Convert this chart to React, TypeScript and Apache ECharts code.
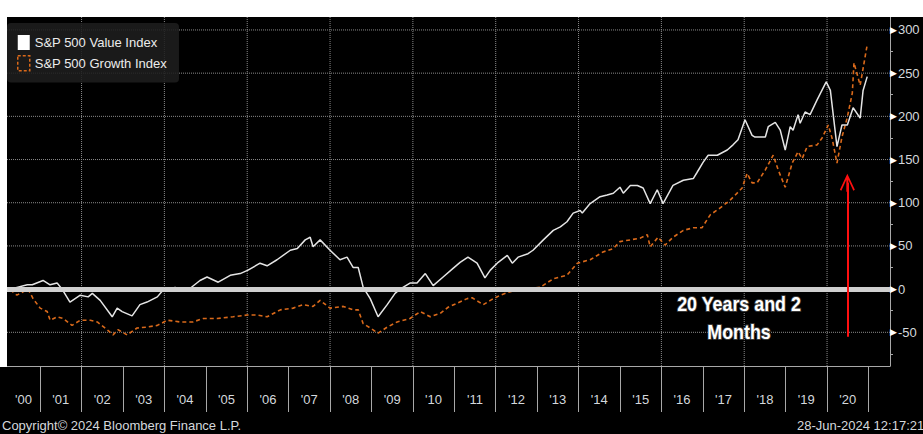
import React, { useEffect, useRef } from "react";
import * as echarts from "echarts";

// ---- Data (decimal year, index % change) ----
const valueYears = [
  2000.28, 2000.69, 2000.81, 2001.07, 2001.24, 2001.41, 2001.53, 2001.72, 2001.97, 2002.16,
  2002.26, 2002.45, 2002.74, 2002.86, 2002.98, 2003.22, 2003.41, 2003.58, 2003.83, 2003.97,
  2004.26, 2004.57, 2004.86, 2005.03, 2005.3, 2005.59, 2005.83, 2006.02, 2006.31, 2006.48,
  2006.72, 2007.04, 2007.21, 2007.4, 2007.52, 2007.59, 2007.76, 2008.0, 2008.24, 2008.41,
  2008.56, 2008.68, 2008.8, 2008.97, 2009.16, 2009.38, 2009.57, 2009.69, 2009.93, 2010.1,
  2010.3, 2010.49, 2010.73, 2010.97, 2011.14, 2011.33, 2011.55, 2011.74, 2011.87, 2012.06,
  2012.28, 2012.4, 2012.54, 2012.78, 2012.9, 2013.15, 2013.39, 2013.56, 2013.72, 2013.87,
  2014.04, 2014.09, 2014.28, 2014.52, 2014.69, 2014.84, 2015.0, 2015.08, 2015.25, 2015.42,
  2015.56, 2015.73, 2015.9, 2016.04, 2016.28, 2016.53, 2016.77, 2016.86, 2017.01, 2017.13,
  2017.35, 2017.59, 2017.73, 2017.85, 2018.02, 2018.19, 2018.26, 2018.51, 2018.58, 2018.75,
  2018.87, 2018.99, 2019.11, 2019.18, 2019.3, 2019.35, 2019.47, 2019.59, 2019.76, 2019.98,
  2020.08, 2020.24, 2020.36, 2020.49, 2020.63, 2020.8, 2020.87, 2020.97,
];
const valueIndex = [
  0, 5, 5, 10, 5, 7, 0, -15, -7, -9,
  -5, -13, -32, -22, -26, -31, -18, -15, -9, -1,
  2, -1, 10, 14, 8, 16, 18, 22, 30, 27,
  34, 45, 47, 57, 60, 49, 57, 45, 34, 37,
  25, 25, 2, -11, -32, -18, -5, 0, 7, 7,
  18, 4, 14, 24, 31, 37, 30, 13, 22, 31,
  39, 30, 37, 41, 45, 57, 68, 72, 78, 88,
  91, 88, 99, 107, 109, 111, 118, 111, 120, 120,
  117, 99, 115, 99, 120, 126, 128, 135, 147, 155,
  155, 161, 167, 173, 196, 178, 176, 176, 188, 193,
  184, 161, 188, 184, 202, 192, 205, 202, 219, 240,
  230, 165, 190, 190, 210, 198, 230, 246,
];

const growthYears = [
  2000.28, 2000.44, 2000.59, 2000.71, 2000.83, 2001.0, 2001.17, 2001.24, 2001.41, 2001.56,
  2001.77, 2001.97, 2002.21, 2002.38, 2002.62, 2002.76, 2002.88, 2003.1, 2003.34, 2003.58,
  2003.83, 2004.07, 2004.38, 2004.69, 2004.94, 2005.27, 2005.66, 2006.0, 2006.24, 2006.48,
  2006.8, 2007.11, 2007.35, 2007.59, 2007.76, 2008.0, 2008.32, 2008.56, 2008.68, 2008.8,
  2008.97, 2009.16, 2009.38, 2009.62, 2009.93, 2010.18, 2010.42, 2010.66, 2010.85, 2011.31,
  2011.43, 2011.7, 2011.87, 2012.11, 2012.35, 2012.64, 2013.07, 2013.39, 2013.72, 2013.97,
  2014.28, 2014.59, 2014.84, 2015.0, 2015.25, 2015.49, 2015.66, 2015.73, 2015.92, 2016.09,
  2016.28, 2016.53, 2016.77, 2016.98, 2017.18, 2017.42, 2017.66, 2017.95, 2018.07, 2018.19,
  2018.31, 2018.51, 2018.7, 2018.82, 2018.99, 2019.16, 2019.3, 2019.4, 2019.52, 2019.76,
  2019.88, 2020.03, 2020.12, 2020.24, 2020.36, 2020.49, 2020.61, 2020.65, 2020.8, 2020.97,
];
const growthIndex = [
  -1, -7, -3, 0, -11, -22, -26, -36, -32, -34,
  -42, -36, -36, -38, -47, -53, -47, -53, -45, -44,
  -42, -36, -38, -38, -34, -34, -32, -30, -30, -32,
  -24, -22, -18, -20, -13, -22, -20, -24, -24, -40,
  -45, -51, -44, -38, -34, -26, -32, -28, -21, -11,
  -10, -18, -13, -7, -3, 0, 2, 12, 16, 30,
  34, 43, 47, 55, 57, 59, 63, 49, 60, 51,
  60, 68, 71, 71, 86, 94, 103, 117, 134, 123,
  123, 138, 155, 138, 118, 146, 159, 151, 165, 167,
  175, 190, 175, 146, 176, 199, 227, 262, 236, 283,
];

const X_MIN = 2000.2;
const X_MAX = 2021.52;
const Y_MIN = -89;
const Y_MAX = 315;
const xTickYears = [2001, 2002, 2003, 2004, 2005, 2006, 2007, 2008, 2009, 2010, 2011, 2012, 2013, 2014, 2015, 2016, 2017, 2018, 2019, 2020, 2021];
const xLabelPositions = [2000.6, 2001.5, 2002.5, 2003.5, 2004.5, 2005.5, 2006.5, 2007.5, 2008.5, 2009.5, 2010.5, 2011.5, 2012.5, 2013.5, 2014.5, 2015.5, 2016.5, 2017.5, 2018.5, 2019.5, 2020.5];
const xGridYears = [2002, 2004, 2006, 2008, 2010, 2012, 2014, 2016, 2018, 2020];
const yTickLabels = [-50, 0, 50, 100, 150, 200, 250, 300];
const yMinorTicks = [-75, -25, 25, 75, 125, 175, 225, 275];
const yGridValues = [-50, 50, 100, 150, 200, 250, 300];
const arrowYear = 2020.49;
const arrowFrom = -55;
const arrowTo = 123;

const VALUE_NAME = "S&P 500 Value Index";
const GROWTH_NAME = "S&P 500 Growth Index";
const ORANGE = "#d9691a";
const FONT = "'Liberation Sans', Arial, sans-serif";
const GRID_COLOR = "#8a8a8a";

const ARROW_PATH =
  "path://M7.5,0 L15,16 L13.5,17 L8.5,6 L8.5,18 L6.5,18 L6.5,6 L1.5,17 L0,16 Z";

export default function App() {
  const ref = useRef<HTMLDivElement>(null);

  useEffect(() => {
    document.body.style.margin = "0";
    if (!ref.current) return;
    const chart = echarts.init(ref.current, undefined, { renderer: "svg" });

    const valueData = valueYears.map((x, i) => [x, valueIndex[i]]);
    const growthData = growthYears.map((x, i) => [x, growthIndex[i]]);

    // dotted grid as broken line segments
    const gridData: any[] = [];
    xGridYears.forEach((x) => {
      gridData.push([x, Y_MIN], [x, Y_MAX], [x, "-"]);
    });
    yGridValues.forEach((y) => {
      gridData.push([X_MIN, y], [X_MAX, y], [X_MAX, "-"]);
    });

    chart.setOption({
      animation: false,
      backgroundColor: "#000",
      textStyle: { fontFamily: FONT },
      grid: { left: 7, right: 33, top: 17, bottom: 68, containLabel: false },
      legend: {
        left: 7,
        top: 23,
        orient: "vertical",
        backgroundColor: "rgba(30,30,30,0.88)",
        borderRadius: 4,
        padding: [12, 12, 11, 10],
        itemWidth: 12,
        itemHeight: 15,
        itemGap: 5,
        selectedMode: false,
        textStyle: { color: "#ececec", fontSize: 13, fontFamily: FONT },
        data: [
          { name: VALUE_NAME, icon: "rect", itemStyle: { color: "#ffffff" } },
          {
            name: GROWTH_NAME,
            icon: "rect",
            itemStyle: {
              color: "rgba(0,0,0,0)",
              borderColor: ORANGE,
              borderWidth: 1.5,
              borderType: [3, 2],
            },
          },
        ],
      },
      xAxis: {
        type: "value",
        min: X_MIN,
        max: X_MAX,
        splitLine: { show: false },
        axisLine: { show: true, onZero: false, lineStyle: { color: "#a8a8a8", width: 1 } },
        axisTick: {
          show: true,
          customValues: xTickYears,
          length: 46,
          lineStyle: { color: "#a8a8a8", width: 1 },
        },
        axisLabel: {
          customValues: xLabelPositions,
          formatter: (v: number) => "'" + String(Math.floor(v) % 100).padStart(2, "0"),
          color: "#d4d8dc",
          fontSize: 13,
          fontFamily: FONT,
          margin: 27,
        },
      },
      yAxis: {
        type: "value",
        position: "right",
        min: Y_MIN,
        max: Y_MAX,
        splitLine: { show: false },
        axisLine: { show: true, onZero: false, lineStyle: { color: "#a8a8a8", width: 1 } },
        axisTick: {
          show: true,
          customValues: yMinorTicks,
          length: 3,
          lineStyle: { color: "#a8a8a8", width: 1 },
        },
        axisLabel: {
          customValues: yTickLabels,
          margin: 0,
          formatter: (v: number) => `{t|▶}{v|${v}}`,
          rich: {
            t: { color: "#ffffff", fontSize: 9, fontFamily: "'DejaVu Sans', sans-serif" },
            v: { color: "#d4d8dc", fontSize: 13, fontFamily: FONT, padding: [0, 0, 0, 1] },
          },
        },
      },
      series: [
        {
          name: GROWTH_NAME,
          type: "line",
          data: growthData,
          showSymbol: false,
          symbol: "none",
          z: 3,
          itemStyle: { color: ORANGE },
          lineStyle: { color: ORANGE, width: 1.6, type: [4, 3] },
        },
        {
          name: VALUE_NAME,
          type: "line",
          data: valueData,
          showSymbol: false,
          symbol: "none",
          z: 3,
          itemStyle: { color: "#ffffff" },
          lineStyle: { color: "#e4e4e4", width: 1.5 },
        },
        {
          name: "gridlines",
          type: "line",
          data: gridData,
          z: 2,
          silent: true,
          showSymbol: false,
          symbol: "none",
          connectNulls: false,
          lineStyle: { color: GRID_COLOR, type: "dotted", width: 1 },
          itemStyle: { color: GRID_COLOR },
        },
        {
          name: "overlay",
          type: "line",
          data: [],
          z: 5,
          silent: true,
          markLine: {
            silent: true,
            symbol: ["none", "none"],
            label: { show: false },
            data: [
              { yAxis: 0, lineStyle: { color: "#cfcfcf", width: 5, type: "solid" } },
              [
                {
                  coord: [arrowYear, arrowFrom],
                  symbol: "none",
                  lineStyle: { color: "#ff1010", width: 2, type: "solid" },
                },
                { coord: [arrowYear, arrowTo], symbol: ARROW_PATH, symbolSize: [15, 18] },
              ],
            ],
          },
        },
      ],
      graphic: [
        { type: "rect", shape: { x: 0, y: 0, width: 923, height: 17 }, style: { fill: "#ffffff" }, z: 100 },
        { type: "rect", shape: { x: 0, y: 0, width: 7, height: 367 }, style: { fill: "#ffffff" }, z: 100 },
        {
          type: "text",
          x: 739,
          y: 303,
          scaleX: 0.85,
          z: 50,
          style: {
            text: "20 Years and 2",
            fill: "#ffffff",
            stroke: "#3a3a3a",
            lineWidth: 2,
            font: `bold 21px ${FONT}`,
            textAlign: "center",
            textVerticalAlign: "middle",
          },
        },
        {
          type: "text",
          x: 739,
          y: 331,
          scaleX: 0.85,
          z: 50,
          style: {
            text: "Months",
            fill: "#ffffff",
            stroke: "#3a3a3a",
            lineWidth: 2,
            font: `bold 21px ${FONT}`,
            textAlign: "center",
            textVerticalAlign: "middle",
          },
        },
        {
          type: "text",
          x: 2,
          y: 425,
          z: 50,
          style: {
            text: "Copyright© 2024 Bloomberg Finance L.P.",
            fill: "#d4d8dc",
            font: `13px ${FONT}`,
            textAlign: "left",
            textVerticalAlign: "middle",
          },
        },
        {
          type: "text",
          x: 797,
          y: 425,
          z: 50,
          style: {
            text: "28-Jun-2024 12:17:21",
            fill: "#d4d8dc",
            font: `13px ${FONT}`,
            textAlign: "left",
            textVerticalAlign: "middle",
          },
        },
      ],
    });

    return () => chart.dispose();
  }, []);

  return <div ref={ref} style={{ width: 923, height: 434 }} />;
}
